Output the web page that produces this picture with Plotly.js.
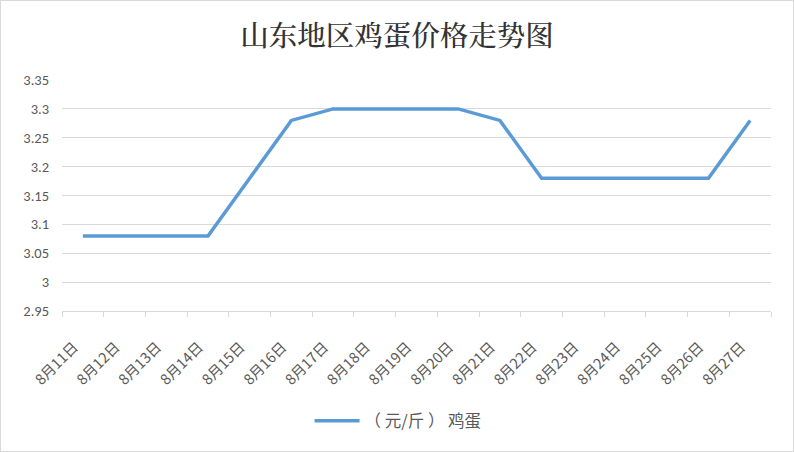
<!DOCTYPE html>
<html><head><meta charset="utf-8">
<script src="https://cdn.plot.ly/plotly-3.0.1.min.js"></script>
<style>html,body{margin:0;padding:0;background:#fff;}#chart{width:792px;height:450px;border:1px solid #d9d9d9;}</style>
</head><body><div id="chart"></div>
<script>
const dates = ["8月11日","8月12日","8月13日","8月14日","8月15日","8月16日","8月17日","8月18日","8月19日","8月20日","8月21日","8月22日","8月23日","8月24日","8月25日","8月26日","8月27日"];
const eggPrice = [3.08,3.08,3.08,3.08,3.18,3.28,3.3,3.3,3.3,3.3,3.28,3.18,3.18,3.18,3.18,3.18,3.28];
const seriesName = "（ 元/斤 ） 鸡蛋";
const yTicks = [2.95,3,3.05,3.1,3.15,3.2,3.25,3.3,3.35];
const yTickText = ["2.95","3","3.05","3.1","3.15","3.2","3.25","3.3","3.35"];

const font = "Calibri, Carlito, 'Liberation Sans', 'Noto Sans CJK SC', sans-serif";
Plotly.newPlot('chart', [{
  x: dates, y: eggPrice, type: 'scatter', mode: 'lines', name: seriesName,
  line: {color: '#5b9bd5', width: 3.5}
}], {
  width: 792, height: 450,
  margin: {l: 61, r: 22, t: 79, b: 140, autoexpand: false},
  paper_bgcolor: '#fff', plot_bgcolor: '#fff',
  title: {text: '山东地区鸡蛋价格走势图', x: 0.5, xanchor: 'center', yref: 'container', y: 0.922, yanchor: 'middle',
    font: {family: "'Noto Serif CJK SC','Noto Sans CJK SC', serif", size: 28.5, weight: 500, color: '#333333'}},
  xaxis: {type: 'category', range: [-0.5, dates.length - 0.5], tickangle: -45, tickson: 'boundaries', ticks: 'outside', ticklen: 5,
    tickcolor: '#d9d9d9', showline: true, linecolor: '#d9d9d9', linewidth: 1, showgrid: false,
    tickfont: {family: "'Noto Sans CJK SC', sans-serif", size: 14.5, color: '#595959'},
    ticklabelstandoff: 21, ticklabelshift: -9, nticks: 40, fixedrange: true},
  yaxis: {range: [2.95, 3.35], tickvals: yTicks, ticktext: yTickText, showgrid: true,
    gridcolor: '#d9d9d9', gridwidth: 1, zeroline: false, showline: false, ticks: '',
    tickfont: {family: font, size: 14.5, color: '#595959'}, ticklabelstandoff: 12, fixedrange: true},
  showlegend: true,
  legend: {orientation: 'h', x: 0.474, xanchor: 'center', y: -0.4, yanchor: 'top', itemwidth: 45,
    font: {family: "'Noto Sans CJK SC', sans-serif", size: 16.5, color: '#595959'}}
}, {displayModeBar: false, staticPlot: true});
</script></body></html>
